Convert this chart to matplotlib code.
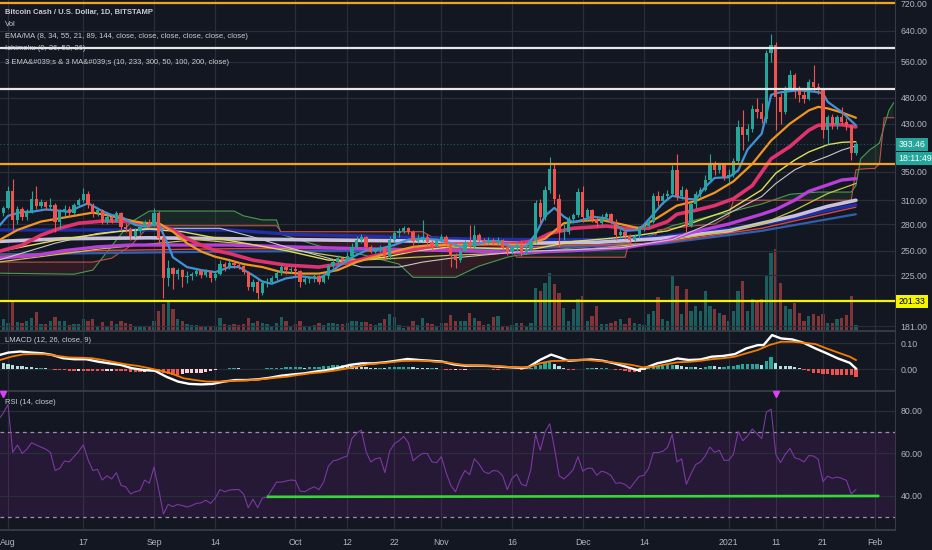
import numpy as np
import pandas as pd
import matplotlib
matplotlib.use("Agg")
import matplotlib.pyplot as plt
import matplotlib.dates as mdates
from matplotlib.ticker import FormatStrFormatter, NullLocator, FixedLocator
from matplotlib.transforms import blended_transform_factory

plt.rcParams['font.family'] = ['Liberation Sans Narrow', 'Liberation Sans', 'DejaVu Sans']

BG = '#131722'
GRID = '#2a2e39'
TXT = '#b2b5be'
UP = '#26a69a'
DOWN = '#ef5350'

# ---------------- daily candles (30 Jul 2020 -> 28 Jan 2021) ----------------
dates = pd.date_range('2020-07-30', '2021-01-28', freq='D')
first_open = 288
closes = [293, 300, 322, 285, 299, 289, 295, 311, 303, 308,
          301, 304, 283, 296, 299, 294, 304, 310, 319, 304,
          293, 297, 283, 289, 283, 293, 277, 274, 266, 272,
          276, 283, 279, 294, 264, 222, 232, 226, 230, 223,
          224, 226, 229, 225, 229, 222, 226, 236, 233, 237,
          235, 234, 228, 214, 219, 209, 218, 219, 222, 227,
          233, 230, 231, 229, 219, 221, 222, 224, 219, 224,
          234, 238, 242, 240, 244, 254, 262, 265, 254, 249,
          251, 253, 243, 262, 269, 272, 275, 271, 260, 264,
          265, 259, 255, 262, 265, 257, 244, 240, 250, 259,
          254, 267, 262, 259, 262, 259, 262, 254, 248, 253,
          256, 248, 252, 260, 306, 289, 324, 355, 312, 271,
          271, 286, 291, 321, 289, 297, 286, 281, 289, 292,
          283, 267, 271, 266, 261, 266, 276, 278, 283, 315,
          309, 316, 318, 352, 315, 324, 278, 305, 318, 324,
          338, 362, 353, 360, 343, 345, 366, 424, 410, 420,
          458, 452, 438, 581, 602, 482, 452, 500, 529, 496,
          485, 478, 514, 503, 496, 418, 442, 427, 442, 433,
          427, 379, 393.46]
highs = [297, 303, 330, 339, 303, 301, 298, 322, 330, 311,
         309, 313, 307, 298, 304, 302, 307, 313, 327, 322,
         307, 300, 299, 292, 291, 296, 295, 281, 277, 275,
         279, 285, 286, 300, 296, 268, 240, 233, 232, 231,
         229, 228, 231, 231, 231, 230, 229, 240, 238, 240,
         239, 238, 235, 229, 221, 220, 220, 222, 224, 229,
         236, 234, 233, 234, 230, 223, 224, 226, 225, 226,
         236, 241, 245, 243, 248, 258, 266, 268, 266, 256,
         253, 256, 255, 266, 272, 275, 278, 276, 273, 268,
         285, 268, 262, 264, 268, 267, 259, 247, 252, 262,
         279, 279, 270, 264, 265, 264, 265, 263, 256, 255,
         259, 262, 255, 262, 310, 312, 330, 373, 363, 318,
         280, 290, 294, 326, 330, 300, 299, 289, 292, 295,
         294, 286, 274, 273, 268, 268, 278, 281, 286, 320,
         322, 320, 324, 360, 378, 330, 326, 308, 322, 328,
         345, 377, 366, 364, 362, 355, 372, 436, 456, 430,
         465, 479, 470, 590, 632, 610, 490, 505, 541, 535,
         505, 498, 520, 552, 512, 500, 446, 448, 446, 462,
         440, 430, 398]
lows = [285, 290, 298, 273, 280, 285, 285, 293, 299, 300,
        297, 298, 271, 274, 290, 290, 292, 302, 308, 300,
        288, 290, 280, 280, 281, 282, 272, 271, 262, 265,
        270, 275, 277, 278, 258, 204, 215, 212, 221, 214,
        218, 220, 224, 222, 223, 219, 220, 225, 229, 231,
        232, 231, 226, 211, 210, 203, 207, 214, 217, 220,
        225, 226, 227, 224, 214, 217, 218, 219, 217, 218,
        221, 232, 236, 237, 238, 242, 252, 258, 250, 247,
        247, 248, 240, 241, 259, 265, 269, 268, 256, 258,
        260, 255, 250, 254, 259, 254, 233, 232, 238, 249,
        252, 252, 258, 256, 257, 256, 256, 251, 245, 246,
        250, 244, 246, 250, 258, 280, 285, 320, 305, 254,
        262, 268, 282, 288, 282, 284, 283, 277, 279, 286,
        280, 262, 264, 263, 256, 259, 264, 272, 275, 281,
        302, 305, 310, 316, 310, 312, 270, 276, 300, 314,
        322, 335, 345, 348, 338, 335, 342, 362, 385, 400,
        415, 440, 432, 432, 560, 418, 430, 448, 495, 480,
        472, 470, 475, 495, 488, 405, 394, 420, 420, 428,
        418, 368, 376]
volume = [10, 12, 8, 30, 9, 8, 10, 13, 19, 7,
          7, 10, 14, 10, 10, 6, 7, 7, 12, 10,
          12, 5, 9, 5, 10, 7, 10, 8, 7, 5,
          4, 5, 4, 10, 20, 27, 29, 22, 12, 10,
          7, 6, 6, 5, 5, 4, 5, 13, 7, 6,
          7, 6, 7, 13, 8, 10, 8, 7, 5, 8,
          14, 10, 5, 7, 10, 4, 5, 6, 8, 6,
          8, 8, 7, 7, 8, 10, 10, 9, 9, 7,
          6, 8, 12, 17, 14, 6, 3, 5, 10, 6,
          13, 8, 7, 5, 8, 8, 16, 10, 10, 10,
          18, 13, 10, 6, 7, 14, 15, 5, 5, 6,
          8, 8, 5, 8, 43, 40, 48, 58, 47, 38,
          23, 10, 22, 32, 35, 10, 15, 25, 7, 7,
          8, 10, 12, 7, 13, 8, 7, 6, 17, 20,
          34, 12, 10, 56, 45, 17, 42, 20, 25, 20,
          40, 25, 22, 18, 16, 10, 20, 40, 50, 20,
          32, 30, 32, 56, 78, 82, 48, 25, 22, 28,
          18, 10, 15, 17, 15, 17, 8, 8, 12, 13,
          16, 35, 6]

# ---------------- moving averages (days after 1 Aug 2020, price) ----------------
ema_fast_days = [-2, 0, 3, 5, 8, 10, 13, 15, 17, 20, 22, 24, 27, 29, 32, 34, 35, 38, 41, 44,
                 47, 49, 52, 54, 56, 59, 62, 66, 69, 73, 76, 79, 82, 85, 88, 91, 94, 96, 99, 102,
                 104, 107, 110, 112, 114, 116, 118, 120, 122, 124, 127, 129, 131, 134, 137, 139, 141, 144, 146, 148,
                 150, 153, 155, 157, 160, 162, 163, 165, 168, 171, 173, 174, 177, 180]
ema_fast_vals = [277, 290, 295, 295, 298, 297, 295, 301, 306, 296, 291, 289, 279, 277, 280, 256, 243, 233, 230, 228,
                 233, 233, 225, 219, 217, 222, 224, 222, 230, 243, 250, 252, 256, 262, 263, 262, 258, 254, 256, 260,
                 260, 254, 255, 268, 290, 300, 289, 282, 285, 289, 287, 279, 272, 273, 292, 306, 316, 312, 311, 328,
                 341, 342, 352, 385, 412, 486, 490, 493, 496, 493, 490, 472, 452, 427]

ema_orange_days = [-2, 2, 7, 11, 15, 18, 21, 24, 27, 29, 32, 35, 38, 41, 44, 47, 50, 54, 58, 62,
                   66, 70, 74, 78, 82, 86, 90, 94, 102, 110, 114, 118, 122, 126, 130, 134, 138, 142, 146, 150,
                   154, 158, 162, 166, 170, 172, 174, 177, 180]
ema_orange_vals = [261, 273, 283, 287, 291, 294, 291, 287, 283, 281, 281, 271, 258, 249, 243.5, 240, 236, 233, 228, 226.6,
                   226.6, 230, 238, 243.5, 249, 254, 256, 256, 257, 256, 263, 281, 284, 285, 280, 275, 288, 303, 309, 320,
                   336, 362, 400, 430, 455, 462, 459, 451, 441]

ema_crimson_days = [-2, 3, 7, 11, 15, 20, 24, 28, 32, 35, 38, 41, 44, 47, 52, 59, 66, 73, 77, 80,
                    85, 89, 94, 102, 108, 112, 115, 120, 127, 131, 136, 140, 142, 146, 150, 154, 158, 162, 166, 170,
                    172, 174, 177, 180]
ema_crimson_vals = [249, 256, 267, 275, 281, 283.5, 283.5, 281, 279, 273, 263, 256, 250, 247, 240, 235, 233, 238, 243.5, 247,
                    250, 254, 257, 257.5, 258, 261, 269, 275, 277.6, 275, 275, 283, 292, 297, 303, 312, 330, 370, 390, 418,
                    427, 428, 428, 424]

ma_yellow_days = [-2, 12, 23, 30, 37, 47, 59, 68, 73, 80, 87, 94, 104, 112, 120, 127, 134, 140, 145, 149,
                  153, 160, 163, 167, 170, 174, 177, 180]
ma_yellow_vals = [249, 263, 271, 274, 271, 261, 250, 240, 240, 243, 250, 254, 252, 252, 260, 263, 267, 272, 281, 289,
                  297, 324, 348, 368, 381, 393, 397, 398]

ma_white_days = [-2, 10, 19, 30, 45, 52, 59, 68, 75, 83, 88, 94, 109, 120, 130, 141, 148, 153, 160, 163,
                 167, 170, 174, 177, 180]
ma_white_vals = [240, 258, 269, 275, 275, 265, 254, 242, 233, 233, 238, 242, 249, 251, 253, 262, 278, 293, 315, 333,
                 353, 363, 374, 384, 391]

ma_magenta_days = [-2, 6, 12, 19, 26, 47, 60, 75, 94, 109, 120, 131, 140, 145, 153, 160, 163, 167, 170, 174, 177, 180]
ma_magenta_vals = [242, 245, 250, 254, 256, 256, 254, 252, 250, 248, 250, 253, 261, 270, 280, 292, 298, 310, 322, 331, 338, 340]

ma_lavender_days = [-2, 12, 30, 47, 60, 94, 110, 125, 138, 153, 160, 167, 174, 180]
ma_lavender_vals = [260, 263, 264, 263, 262, 260, 258, 259, 263, 272, 281, 290, 302, 310]

ema_navy_days = [-2, 30, 47, 60, 75, 94, 110, 125, 138, 153, 160, 167, 174, 180]
ema_navy_vals = [273, 273, 273, 268, 266, 263, 262, 262, 265, 274, 280, 287, 297, 304]

ema_red_days = [-2, 19, 47, 94, 138, 160, 180]
ema_red_vals = [244, 250, 252, 252, 258, 275, 301]

ma_steel_days = [-2, 47, 94, 138, 160, 180]
ma_steel_vals = [246, 249, 250, 257, 272, 292]

ma_olive_days = [-2, 20, 40, 55, 75, 94, 120, 138, 153, 160, 167, 174, 180]
ma_olive_vals = [238, 252, 262, 255, 240, 245, 250, 259, 272, 280, 297, 319, 333]

# ---------------- Ichimoku cloud ----------------
ichi_days = [-2, 14, 18, 22, 26, 30, 48, 50, 54, 57,
             58, 66, 72, 78, 83, 86, 88, 90, 95, 100,
             106, 107, 108, 112, 118, 125, 131, 132, 137, 138,
             141, 146, 150, 153, 154, 160, 166, 172, 179, 180,
             181, 183, 184, 185, 186, 187, 188]
span_a = [227, 226, 230, 255, 282, 296, 296, 290, 285, 285,
          268, 255, 250, 242, 236, 223, 223, 223, 223, 234,
          243, 244, 245, 247, 252, 255, 258, 259, 268, 271,
          278, 285, 291, 294, 296, 305, 318, 321, 321, 330,
          370, 385, 390, 396, 425, 455, 470]
span_b = [238, 238, 238, 242, 255, 278, 278, 278, 278, 278,
          271, 271, 271, 271, 271, 271, 271, 265, 264, 262,
          258, 250, 243, 243, 243, 243, 243, 262, 262, 273,
          275, 278, 280, 290, 310, 310, 310, 310, 310, 353,
          354, 355, 355, 362, 441, 441, 441]

# ---------------- horizontal levels ----------------
level_prices = [720, 595, 499, 362, 201.33]
level_colors = ['#f7a21b', '#e8e8e8', '#e8e8e8', '#f7a21b', '#f5f500']

# ---------------- LMACD (12, 26, 9) ----------------
macd_days = [-1.7, 0.1, 2.6, 5.0, 7.4, 9.3, 11.7, 14.1, 16.6, 19.0, 21.5, 23.9, 26.3, 28.8, 31.2, 33.6, 36.1, 38.5,
             41.0, 43.4, 45.8, 48.3, 50.7, 53.1, 55.6, 58.0, 60.5, 62.9, 65.3, 67.8, 70.2, 72.6, 75.1, 77.5, 80.0,
             82.4, 84.8, 87.3, 89.7, 92.1, 94.6, 97.0, 99.5, 101.9, 104.3, 106.8, 109.2, 110.4, 112.9, 115.3, 117.1,
             119.0, 121.4, 123.8, 126.3, 128.7, 131.1, 133.6, 135.4, 137.8, 140.3, 142.1, 144.6, 147.0, 149.4, 151.9,
             154.3, 156.7, 159.2, 160.4, 162.2, 164.1, 166.5, 168.9, 171.4, 173.8, 176.2, 178.7, 180.0]
macd_vals = [.055, .064, .068, .064, .061, .055, .042, .038, .038, .029, .022, .016, .003, -.004, -.007, -.030, -.049, -.058,
             -.060, -.058, -.049, -.043, -.043, -.040, -.034, -.026, -.021, -.017, -.010, -.004, .005, .016, .022, .022, .026,
             .032, .039, .035, .032, .029, .018, .013, .013, .012, .009, .0065, .004, .0065, .035, .056, .045,
             .032, .035, .037, .032, .022, .009, -.004, .005, .022, .032, .041, .035, .037, .048, .051,
             .058, .080, .093, .093, .132, .119, .115, .102, .080, .061, .041, .024, .002]
signal_days = [-1.7, 0.7, 3.2, 5.6, 8.1, 10.5, 13.0, 15.4, 17.8, 20.2, 22.7, 25.1, 27.6, 30.0, 32.4, 34.9, 37.3, 39.7,
               42.2, 44.6, 47.0, 49.5, 51.9, 54.4, 56.8, 59.2, 61.7, 64.1, 66.5, 69.0, 71.4, 73.9, 76.3, 78.7, 81.2,
               83.6, 86.1, 88.5, 90.9, 93.4, 95.8, 98.2, 100.7, 103.1, 105.5, 108.0, 110.4, 112.9, 115.3, 117.7, 120.2,
               122.6, 125.1, 127.5, 129.9, 132.4, 134.8, 137.2, 139.7, 142.1, 144.6, 147.0, 149.4, 151.9, 154.3, 156.7,
               159.2, 161.6, 164.1, 166.5, 168.9, 171.4, 173.8, 176.2, 178.7, 180.0]
signal_vals = [.035, .048, .057, .058, .057, .051, .045, .044, .042, .035, .026, .018, .012, .003, -.007, -.019, -.036, -.043,
               -.049, -.049, -.047, -.045, -.043, -.039, -.034, -.030, -.023, -.017, -.013, -.007, .000, .009, .018, .022, .026,
               .031, .032, .032, .028, .025, .018, .014, .013, .012, .009, .0065, .0065, .022, .031, .032, .035,
               .035, .032, .028, .022, .016, .0065, .009, .018, .026, .028, .032, .038, .042, .048, .061,
               .074, .093, .106, .106, .102, .097, .080, .064, .048, .035]
macd_hist = [.026, .024, .021, .014, .012, .010, .009, .006, .005, .005,
             .003, .001, -.002, -.004, -.005, -.006, -.007, -.006, -.006, -.008,
             -.008, -.008, -.009, -.007, -.006, -.006, -.006, -.009, -.011, -.012,
             -.012, -.010, -.009, -.007, -.010, -.016, -.020, -.022, -.023, -.019,
             -.017, -.016, -.015, -.014, -.011, -.009, -.005, -.001, .000, .002,
             .003, .002, .001, .000, .000, .001, .001, .002, .002, .003,
             .005, .006, .006, .006, .006, .005, .006, .007, .008, .010,
             .012, .014, .015, .016, .014, .013, .011, .009, .007, .005,
             .004, .005, .004, .006, .007, .008, .009, .009, .007, .005,
             .003, .002, .003, .002, .001, -.003, -.004, -.003, -.003, -.002,
             -.001, .000, .000, -.001, .000, -.002, -.002, -.001, -.001, -.001,
             -.001, -.002, .000, .005, .010, .016, .022, .030, .018, .013,
             .005, -.002, -.002, .000, .001, .003, .003, .002, .002, .002,
             .000, -.002, -.004, -.007, -.011, -.011, -.010, -.002, .004, .009,
             .012, .013, .014, .017, .016, .011, .007, .007, .006, .005,
             .008, .011, .010, .009, .009, .010, .010, .015, .018, .020,
             .020, .020, .015, .030, .045, .025, .013, .011, .010, .007,
             .003, -.002, -.007, -.014, -.016, -.019, -.021, -.022, -.022, -.023,
             -.023, -.025, -.033]

# ---------------- RSI (14) ----------------
rsi = [76, 79, 83, 60.5, 64, 60, 62, 65, 64, 63,
       62, 60.5, 52, 53, 56.5, 56, 58.5, 61, 64, 57,
       52, 52.5, 47.5, 49.5, 48, 51, 45, 44.3, 41, 42,
       42.5, 47.5, 46, 53.6, 43, 31.5, 36, 35, 36, 35.5,
       34.8, 35.5, 36.5, 36.8, 38, 36.5, 39, 43, 42, 42.8,
       43, 43, 41, 34.5, 38.5, 34.5, 39, 39.5, 43, 46.5,
       46.5, 47, 47.5, 47.3, 42.3, 42, 43.3, 44.3, 43, 46.5,
       54, 56.5, 57, 58, 58.8, 67, 69.5, 71, 61, 56,
       57.5, 58, 51, 61, 64.5, 66, 68, 65, 56.5, 58.5,
       60, 60, 56, 55.7, 58.5, 51, 45, 42, 47.8, 52,
       50, 57.5, 55, 51.5, 50.5, 52, 51.7, 49.5, 43, 48.3,
       50.2, 45.5, 44.7, 52.5, 69, 61.5, 70, 74, 62.5, 49.5,
       48, 50, 52.5, 58.5, 51.7, 53, 53, 49.7, 51.7, 51,
       49.6, 46, 46.2, 45.4, 43.5, 46.5, 49.2, 49.7, 53, 60.4,
       60.4, 61, 62.8, 69, 56, 57.5, 45.5, 50.5, 54.8, 56,
       58.8, 63, 60.5, 61.5, 56.8, 56.8, 59.6, 70.3, 66, 68.2,
       71.5, 69.3, 67, 79.5, 80.8, 59.6, 55.7, 59.6, 62.4, 58,
       57.3, 56, 59, 58.8, 57.2, 46.7, 49.3, 48.3, 48.9, 48.3,
       47.3, 41, 43]
trend_days = [55.2, 184.7]
trend_vals = [39.6, 40.0]
rsi_marker_days = [-1, 163]

tick_days = [0, 16, 31, 44, 61, 72, 82, 92, 107, 122, 135, 153, 163, 173, 184]
tick_labels = ['Aug', '17', 'Sep', '14', 'Oct', '12', '22', 'Nov', '16', 'Dec', '14', '2021', '11', '21', 'Feb']
price_ticks = [181, 225, 250, 280, 310, 350, 430, 480, 560, 640, 720]

# ---------------- drawing ----------------
base = mdates.date2num(pd.Timestamp('2020-08-01'))
def dx(days):
    return base + np.asarray(days, dtype=float)

x = mdates.date2num(dates)
c = np.array(closes, dtype=float)
o = np.concatenate([[first_open], c[:-1]])
h = np.array(highs, dtype=float)
l = np.array(lows, dtype=float)
up = c >= o
cols = np.where(up, UP, DOWN)

W, H = 932, 550
fig = plt.figure(figsize=(9.32, 5.5), dpi=100, facecolor=BG)

def rect(top, bottom):
    return [0, 1 - bottom / H, 895 / W, (bottom - top) / H]

ax_vol = fig.add_axes(rect(0, 331), facecolor=BG, zorder=0)
ax = fig.add_axes(rect(0, 331), zorder=1, sharex=ax_vol)
ax.patch.set_alpha(0)
ax_m = fig.add_axes(rect(332, 391), facecolor=BG, sharex=ax_vol)
ax_r = fig.add_axes(rect(392, 530), facecolor=BG, sharex=ax_vol)

xlo, xhi = dx(-1.7), dx(188.3)
ax_vol.set_xlim(xlo, xhi)

# volume
ax_vol.bar(x, volume, width=0.7, color=cols, alpha=0.5, linewidth=0)
ax_vol.set_ylim(0, 331)
ax_vol.axis('off')

# grid
for a in (ax, ax_m, ax_r):
    for td in tick_days:
        a.axvline(dx(td), color=GRID, lw=0.9, zorder=0)

ax.set_yscale('log')
ax.set_ylim(177.3, 729.3)
for p in price_ticks:
    ax.axhline(p, color=GRID, lw=0.9, zorder=0)

# Ichimoku cloud
ix = dx(ichi_days)
sa = np.array(span_a, dtype=float)
sb = np.array(span_b, dtype=float)
ax.fill_between(ix, sa, sb, where=sa >= sb, interpolate=True, color='#43a047', alpha=0.13, lw=0, zorder=1)
ax.fill_between(ix, sa, sb, where=sa < sb, interpolate=True, color='#e53935', alpha=0.13, lw=0, zorder=1)
ax.plot(ix, sa, color='#4c9a52', lw=0.8, zorder=2)
ax.plot(ix, sb, color='#c0504a', lw=0.8, zorder=2)

# moving averages
ma_lines = [
    (ma_steel_days, ma_steel_vals, '#2f5fb0', 1.6),
    (ema_red_days, ema_red_vals, '#d9483b', 1.0),
    (ema_navy_days, ema_navy_vals, '#1f2fa8', 2.4),
    (ma_lavender_days, ma_lavender_vals, '#c9c0dd', 2.6),
    (ma_olive_days, ma_olive_vals, '#c4c44a', 0.9),
    (ma_magenta_days, ma_magenta_vals, '#b840d8', 2.4),
    (ma_white_days, ma_white_vals, '#c8c8c8', 0.8),
    (ma_yellow_days, ma_yellow_vals, '#dede55', 1.0),
    (ema_crimson_days, ema_crimson_vals, '#e0336e', 2.6),
    (ema_orange_days, ema_orange_vals, '#f0961f', 1.6),
    (ema_fast_days, ema_fast_vals, '#3f93d6', 1.6),
]
for days, vals, col, lw in ma_lines:
    ax.plot(dx(days), vals, color=col, lw=lw, zorder=3, solid_capstyle='round')

# candles
ax.vlines(x, l, h, colors=cols, lw=0.8, zorder=4)
ax.bar(x, np.maximum(np.abs(c - o), 0.6), bottom=np.minimum(o, c), width=0.7, color=cols, lw=0, zorder=5)

# horizontal levels
for p, col in zip(level_prices, level_colors):
    ax.axhline(p, color=col, lw=1.6, zorder=6)
ax.axhline(closes[-1], color=UP, lw=0.8, ls=(0, (1, 2)), alpha=0.5, zorder=6)

# right price axis
for a in (ax, ax_m, ax_r):
    a.yaxis.tick_right()
    a.tick_params(axis='y', length=0, pad=4, labelsize=6.3, labelcolor=TXT)
    a.tick_params(axis='x', length=0, labelbottom=False)
    for s in ('top', 'left'):
        a.spines[s].set_visible(False)
    a.spines['right'].set_color('#363a45')
    a.spines['bottom'].set_color('#363a45')
    a.spines['bottom'].set_linewidth(1.4)
ax.yaxis.set_major_locator(FixedLocator(price_ticks))
ax.yaxis.set_minor_locator(NullLocator())
ax.yaxis.set_major_formatter(FormatStrFormatter('%.2f'))
ax.yaxis.set_minor_formatter(FormatStrFormatter(''))

tr = blended_transform_factory(ax.transAxes, ax.transData)
ax.text(1.004, closes[-1], '%.2f' % closes[-1], transform=tr, va='center', ha='left', fontsize=6.3,
        color='white', bbox=dict(boxstyle='square,pad=0.25', fc=UP, ec='none'), zorder=10, clip_on=False)
ax.text(1.004, 371, '18:11:49', transform=tr, va='center', ha='left', fontsize=6.3,
        color='white', bbox=dict(boxstyle='square,pad=0.25', fc=UP, ec='none'), zorder=10, clip_on=False)
ax.text(1.004, 201.33, '201.33', transform=tr, va='center', ha='left', fontsize=6.3,
        color='black', bbox=dict(boxstyle='square,pad=0.25', fc='#f5f500', ec='none'), zorder=10, clip_on=False)

# LMACD pane
hist = np.array(macd_hist)
hcols = []
for i, v in enumerate(hist):
    prev = hist[i - 1] if i > 0 else v
    if v >= 0:
        hcols.append(UP if v >= prev else '#b2dfdb')
    else:
        hcols.append(DOWN if v <= prev else '#ffcdd2')
ax_m.bar(x, hist, width=0.7, color=hcols, lw=0, zorder=2)
ax_m.plot(dx(macd_days), macd_vals, color='white', lw=1.7, zorder=3)
ax_m.plot(dx(signal_days), signal_vals, color='#f57c00', lw=1.3, zorder=3)
ax_m.set_ylim(-0.0856, 0.144)
ax_m.set_yticks([0.0, 0.1])
ax_m.yaxis.set_major_formatter(FormatStrFormatter('%.2f'))
for v in (0.0, 0.1):
    ax_m.axhline(v, color=GRID, lw=0.9, zorder=0)

# RSI pane
ax_r.axhspan(30, 70, color='#9c27b0', alpha=0.14, lw=0, zorder=0)
for v in (40, 60, 80):
    ax_r.axhline(v, color=GRID, lw=0.9, zorder=0)
for v in (30, 70):
    ax_r.axhline(v, color='#9598a1', lw=0.9, ls=(0, (3, 3)), zorder=1)
ax_r.plot(x, rsi, color='#7e3aa8', lw=0.75, zorder=3)
ax_r.plot(dx(trend_days), trend_vals, color='#35d835', lw=1.9, zorder=4)
ax_r.plot(dx(rsi_marker_days), [87.8, 87.8], ls='none', marker='v', ms=5, color='#e040fb', zorder=5, clip_on=False)
ax_r.set_ylim(24.0, 88.9)
ax_r.set_yticks([40, 60, 80])
ax_r.yaxis.set_major_formatter(FormatStrFormatter('%.2f'))
ax_r.set_xticks(dx(tick_days))
ax_r.set_xticklabels(tick_labels)
ax_r.tick_params(axis='x', labelbottom=True, labelsize=6.3, labelcolor=TXT, pad=6)
ax_r.set_xlim(xlo, xhi)

# pane titles
def ftext(px, py, s, **kw):
    fig.text(px / W, 1 - py / H, s, va='center', ha='left', fontsize=5.5, color='#c9ccd4', **kw)

ftext(5, 12, 'Bitcoin Cash / U.S. Dollar, 1D, BITSTAMP', fontweight='bold')
ftext(5, 24, 'Vol')
ftext(5, 37, 'EMA/MA (8, 34, 55, 21, 89, 144, close, close, close, close, close, close)')
ftext(5, 49, 'Ichimoku (9, 26, 52, 26)')
ftext(5, 62, '3 EMA&#039;s & 3 MA&#039;s (10, 233, 300, 50, 100, 200, close)')
ftext(5, 341, 'LMACD (12, 26, close, 9)')
ftext(5, 403, 'RSI (14, close)')

fig.savefig('out.png', dpi=100, facecolor=BG)
